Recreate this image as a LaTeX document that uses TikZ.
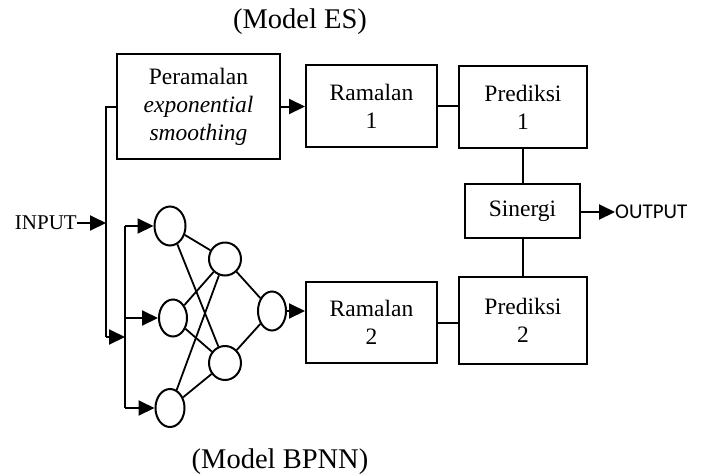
\documentclass[tikz,border=0pt]{standalone}
\usepackage{fontspec}
\setmainfont{Liberation Serif}
\newfontfamily\labelsans{Carlito}
\usetikzlibrary{arrows.meta,shapes.geometric}
\tikzset{
  blk/.style={draw,line width=2pt,align=center,inner sep=0pt,
    font=\fontsize{23.5}{28}\selectfont},
  neuron/.style={draw,ellipse,line width=2pt,inner sep=0pt},
  wire/.style={line width=2pt},
  arr/.style={line width=2pt,-{Triangle[length=16pt,width=15pt]}},
  link/.style={line width=1.8pt},
}
\begin{document}
\begin{tikzpicture}[x=1pt,y=-1pt]
\useasboundingbox (0,0) rectangle (702,475);

% captions
\node[font=\fontsize{28.5}{32}\selectfont] (capes) at (300,22) {(Model ES)};
\node[font=\fontsize{28.5}{32}\selectfont] (capnn) at (280,462) {(Model BPNN)};

% exponential smoothing branch
\node[blk,minimum width=163pt,minimum height=105pt] (pera) at (198.5,106.5)
  {Peramalan\\\textit{exponential}\\\textit{smoothing}};
\node[blk,minimum width=131pt,minimum height=82pt] (ram1) at (371.5,106) {Ramalan\\1};
\node[blk,minimum width=128pt,minimum height=82pt] (pred1) at (523,107) {Prediksi\\1};

% combination and second branch
\node[blk,minimum width=115pt,minimum height=54pt] (sin) at (522.5,211) {Sinergi};
\node[blk,minimum width=128pt,minimum height=87pt] (pred2) at (523,320.5) {Prediksi\\2};
\node[blk,minimum width=131pt,minimum height=81pt] (ram2) at (371.5,322.5) {Ramalan\\2};

% input / output labels
\node[anchor=east,inner sep=0pt,font=\fontsize{21}{24}\selectfont] (in) at (77,223) {INPUT};
\node[anchor=west,inner sep=0pt,font=\labelsans\fontsize{21}{24}\selectfont] (out) at (615,212) {OUTPUT};

% neural network
\node[neuron,minimum width=31pt,minimum height=39pt] (i1) at (170,226) {};
\node[neuron,minimum width=28pt,minimum height=37pt] (i2) at (173,318) {};
\node[neuron,minimum width=29pt,minimum height=38pt] (i3) at (170,408) {};
\node[neuron,minimum width=32pt,minimum height=33pt] (h1) at (225,259) {};
\node[neuron,minimum width=32pt,minimum height=34pt] (h2) at (225,363) {};
\node[neuron,minimum width=28pt,minimum height=39pt] (o) at (272,311) {};

% trunks
\coordinate (t1top) at (106,106.5);
\coordinate (t1in) at (106,223);
\coordinate (t1bot) at (106,337);
\coordinate (t2mid) at (125,337);
\coordinate (t2top) at (125,226);
\coordinate (t2m) at (125,318);
\coordinate (t2bot) at (125,408);

\draw[wire] (pera.west |- t1top) -- (t1top) -- (t1bot);
\draw[arr] (in.east) -- (t1in);
\draw[arr] (t1bot) -- (t2mid);
\draw[wire] (t2top) -- (t2bot);
\draw[arr] (t2top) -- (i1.west);
\draw[arr] (t2m) -- (i2.west);
\draw[arr] (t2bot) -- (i3.west);

% network links
\foreach \a in {i1,i2,i3}{
  \foreach \b in {h1,h2}{
    \draw[link] (\a) -- (\b);
  }
}
\draw[link] (h1) -- (o);
\draw[link] (h2) -- (o);

% flow between blocks
\draw[arr] (pera.east) -- (ram1.west |- pera.east);
\draw[wire] (ram1.east) -- (ram1.east -| pred1.west);
\draw[arr] (o.east) -- (ram2.west |- o.east);
\draw[wire] (ram2.east) -- (ram2.east -| pred2.west);
\draw[wire] (pred1.south) -- (sin.north -| pred1.south);
\draw[wire] (pred2.north) -- (sin.south -| pred2.north);
\draw[arr] (sin.east |- out.west) -- (out.west);
\end{tikzpicture}
\end{document}
